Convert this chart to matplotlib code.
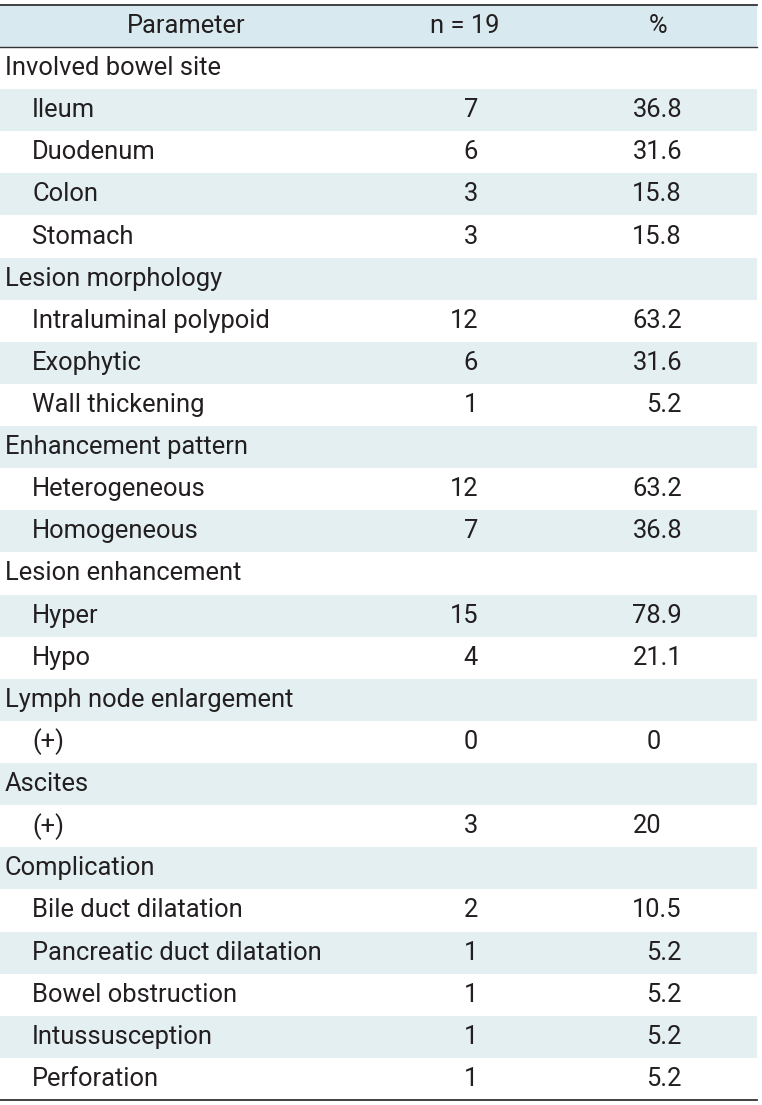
import matplotlib
matplotlib.use("Agg")
import matplotlib.pyplot as plt

headers = ["Parameter", "n = 19", "%"]
labels = ["Involved bowel site", "Ileum", "Duodenum", "Colon", "Stomach",
          "Lesion morphology", "Intraluminal polypoid", "Exophytic", "Wall thickening",
          "Enhancement pattern", "Heterogeneous", "Homogeneous",
          "Lesion enhancement", "Hyper", "Hypo",
          "Lymph node enlargement", "(+)",
          "Ascites", "(+)",
          "Complication", "Bile duct dilatation", "Pancreatic duct dilatation",
          "Bowel obstruction", "Intussusception", "Perforation"]
is_group = [True, False, False, False, False,
            True, False, False, False,
            True, False, False,
            True, False, False,
            True, False,
            True, False,
            True, False, False, False, False, False]
n_vals = ["", "7", "6", "3", "3",
          "", "12", "6", "1",
          "", "12", "7",
          "", "15", "4",
          "", "0",
          "", "3",
          "", "2", "1", "1", "1", "1"]
pct_vals = ["", "36.8", "31.6", "15.8", "15.8",
            "", "63.2", "31.6", "5.2",
            "", "63.2", "36.8",
            "", "78.9", "21.1",
            "", "0",
            "", "20",
            "", "10.5", "5.2", "5.2", "5.2", "5.2"]

W, H = 762, 1105
fig = plt.figure(figsize=(W / 100, H / 100), dpi=100)
ax = fig.add_axes([0, 0, 1, 1])
ax.set_xlim(0, W)
ax.set_ylim(H, 0)
ax.axis("off")

FONT = ["Roboto", "DejaVu Sans"]
FS = 18.4
txt = "#231f20"
header_bg = "#d8eaef"
row_bg = "#e3eff1"
x0, x1 = 0, 757
top, head_bot, bottom = 5, 47, 1100
nrows = len(labels)
rh = (bottom - head_bot) / nrows

ax.fill_between([x0, x1], top, head_bot, color=header_bg, lw=0)
for i in range(nrows):
    if i % 2 == 1:
        y = head_bot + i * rh
        ax.fill_between([x0, x1], y, y + rh, color=row_bg, lw=0)

ax.plot([x0, x1], [top, top], color="#333333", lw=1.3)
ax.plot([x0, x1], [head_bot, head_bot], color="#333333", lw=1.0)
ax.plot([x0, x1], [bottom, bottom], color="#333333", lw=1.3)

hy = (top + head_bot) / 2
ax.text(186, hy, headers[0], ha="center", va="center", fontsize=FS, family=FONT, color=txt)
ax.text(465, hy, headers[1], ha="center", va="center", fontsize=FS, family=FONT, color=txt)
ax.text(658, hy, headers[2], ha="center", va="center", fontsize=FS, family=FONT, color=txt)

for i, lab in enumerate(labels):
    yc = head_bot + (i + 0.5) * rh
    xl = 5 if is_group[i] else 32
    ax.text(xl, yc, lab, ha="left", va="center", fontsize=FS, family=FONT, color=txt)
    if n_vals[i]:
        ax.text(478, yc, n_vals[i], ha="right", va="center", fontsize=FS, family=FONT, color=txt)
    if pct_vals[i]:
        xr = 682 if "." in pct_vals[i] else 661
        ax.text(xr, yc, pct_vals[i], ha="right", va="center", fontsize=FS, family=FONT, color=txt)

fig.savefig("out.png", dpi=100)
